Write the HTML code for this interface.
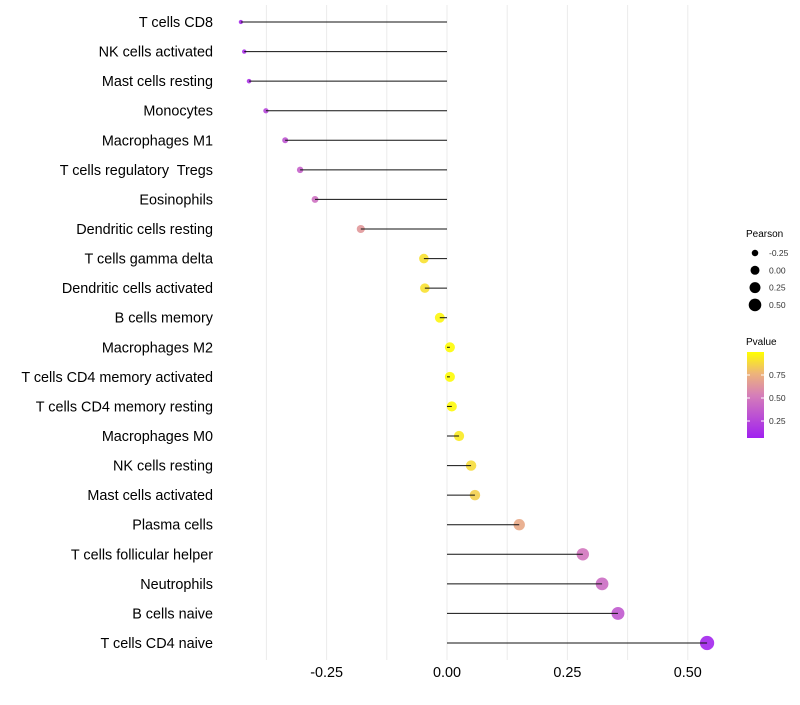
<!DOCTYPE html>
<html><head><meta charset="utf-8"><style>
body{margin:0;background:#fff}
svg text{font-family:"Liberation Sans",sans-serif;white-space:pre}
</style></head><body>
<svg id="chart" width="800" height="700" xmlns="http://www.w3.org/2000/svg">
<g id="grid"></g><g id="marks"></g><g id="labels"></g><g id="xticks"></g>
<g>
<text x="746" y="237" font-size="10" fill="#000">Pearson</text>
<g id="sizeLegend"></g>
</g>
<g>
<defs><linearGradient id="pg" x1="0" y1="1" x2="0" y2="0">
<stop offset="0" stop-color="#A020F0"/><stop offset="0.5" stop-color="#D67FB8"/><stop offset="0.75" stop-color="#EDB47A"/><stop offset="1" stop-color="#FFFF00"/>
</linearGradient></defs>
<text x="746" y="345" font-size="10" fill="#000">Pvalue</text>
<rect x="747" y="352" width="17" height="86" fill="url(#pg)"/>
<g id="cbTicks"></g>
</g>
</svg>
<script>
const categories=["T cells CD8","NK cells activated","Mast cells resting","Monocytes","Macrophages M1","T cells regulatory  Tregs","Eosinophils","Dendritic cells resting","T cells gamma delta","Dendritic cells activated","B cells memory","Macrophages M2","T cells CD4 memory activated","T cells CD4 memory resting","Macrophages M0","NK cells resting","Mast cells activated","Plasma cells","T cells follicular helper","Neutrophils","B cells naive","T cells CD4 naive"];
const pearson=[-0.428,-0.421,-0.411,-0.376,-0.336,-0.305,-0.274,-0.179,-0.048,-0.046,-0.015,0.006,0.006,0.010,0.025,0.050,0.058,0.150,0.282,0.322,0.355,0.540];
const pvalue=[0.05,0.07,0.1,0.2,0.28,0.34,0.42,0.62,0.9,0.9,0.97,0.99,0.99,0.98,0.93,0.88,0.84,0.7,0.45,0.4,0.3,0.03];
const xTicks=[-0.25,0,0.25,0.5];
const xTickLabels=["-0.25","0.00","0.25","0.50"];
const sizeLegendValues=[-0.25,0,0.25,0.5];
const cbTickValues=[0.25,0.5,0.75];
const NS="http://www.w3.org/2000/svg";
function mk(t,a,p){const e=document.createElementNS(NS,t);for(const k in a)e.setAttribute(k,a[k]);p.appendChild(e);return e;}
const x=v=>447+v*481.6;
const y=i=>22+i*(621/(categories.length-1));
const r=v=>Math.sqrt(Math.max(3,25+48*v));
function lerp(a,b,t){return a.map((c,i)=>Math.round(c+(b[i]-c)*t));}
const stops=[[0,[160,32,240]],[0.5,[214,127,184]],[0.75,[237,180,122]],[1,[255,255,0]]];
function col(p){for(let i=1;i<stops.length;i++){if(p<=stops[i][0]){const t=(p-stops[i-1][0])/(stops[i][0]-stops[i-1][0]);const c=lerp(stops[i-1][1],stops[i][1],t);return `rgb(${c})`;}}return "rgb(255,255,0)";}
const grid=document.getElementById('grid');
for(let g=-0.375;g<=0.5001;g+=0.125){const l=mk('line',{x1:x(g),x2:x(g),y1:5,y2:660,stroke:'#ebebeb','stroke-width':1},grid);

}
const marks=document.getElementById('marks'),labels=document.getElementById('labels');
categories.forEach((c,i)=>{
 const cc=mk('circle',{cx:x(pearson[i]),cy:y(i),r:r(pearson[i]),fill:col(pvalue[i]),'fill-opacity':0.9},marks);
 
 
 const s=mk('line',{x1:x(0),x2:x(pearson[i]),y1:y(i),y2:y(i),stroke:'#111','stroke-width':1},marks);
 
 
 const t=mk('text',{x:213,y:y(i)+5,'text-anchor':'end','font-size':14.4,fill:'#000'},labels);
 t.textContent=c;
 
 
});
const xt=document.getElementById('xticks');
xTicks.forEach((v,i)=>{const t=mk('text',{x:x(v),y:677,'text-anchor':'middle','font-size':14.4,fill:'#000'},xt);t.textContent=xTickLabels[i];

});
const sl=document.getElementById('sizeLegend');
sizeLegendValues.forEach((v,i)=>{const yy=253+i*17.3;
 const c=mk('circle',{cx:755,cy:yy,r:r(v)*0.9,fill:'#000'},sl);
 
 
 const t=mk('text',{x:769,y:yy+3,'font-size':8.5,fill:'#333'},sl);t.textContent=v.toFixed(2);
 
 });
const cb=document.getElementById('cbTicks');
cbTickValues.forEach(v=>{const yy=352+(1-v)*92;
 mk('line',{x1:747,x2:750,y1:yy,y2:yy,stroke:'#fff'},cb);mk('line',{x1:761,x2:764,y1:yy,y2:yy,stroke:'#fff'},cb);
 const t=mk('text',{x:769,y:yy+3,'font-size':8.5,fill:'#333'},cb);t.textContent=v.toFixed(2);
 
 });
</script>
</body></html>
